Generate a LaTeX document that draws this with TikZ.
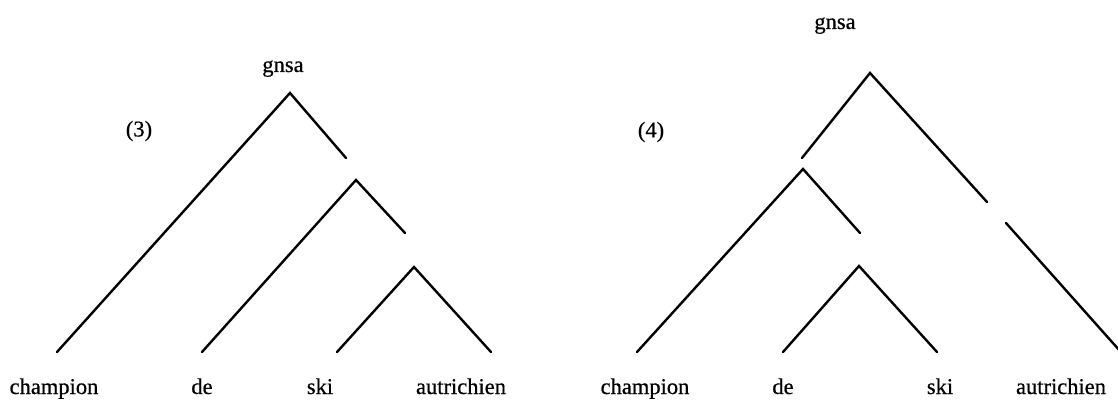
\documentclass[tikz,border=0pt]{standalone}
\usepackage{fontspec}
\setmainfont[FakeBold=0.6]{Liberation Serif}
\begin{document}
\begin{tikzpicture}[x=1pt,y=-1pt,
  branch/.style={line width=2.4pt,line cap=round,line join=miter},
  word/.style={anchor=base,inner sep=0pt,font=\fontsize{22.5}{26}\selectfont},
  tag/.style={anchor=center,inner sep=0pt,font=\fontsize{22.5}{26}\selectfont}]
\useasboundingbox (0,0) rectangle (1118,401);
% ---------- tree (3) ----------
\coordinate (A3) at (290,93);
\coordinate (a3r) at (346,158);
\coordinate (B3) at (356,180);
\coordinate (b3r) at (405,233);
\coordinate (C3) at (414,267);
\coordinate (L1) at (57,352);
\coordinate (L2) at (202,352);
\coordinate (L3) at (337,352);
\coordinate (L4) at (491,352);
\draw[branch] (L1) -- (A3) -- (a3r);
\draw[branch] (L2) -- (B3) -- (b3r);
\draw[branch] (L3) -- (C3) -- (L4);
\node[word] (g3) at (283,72) {gnsa};
\node[tag] (n3) at (139,131) {(3)};
\node[word] (w31) at (54,394) {champion};
\node[word] (w32) at (202,394) {de};
\node[word] (w33) at (320,394) {ski};
\node[word] (w34) at (461,394) {autrichien};
% ---------- tree (4) ----------
\coordinate (A4) at (870,73);
\coordinate (a4l) at (802,158);
\coordinate (a4r) at (987,202);
\coordinate (a4s) at (1006,223);
\coordinate (a4e) at (1120,351);
\coordinate (B4) at (803,169);
\coordinate (b4r) at (860,233);
\coordinate (C4) at (859,266);
\coordinate (M1) at (637,352);
\coordinate (M2) at (783,352);
\coordinate (M3) at (937,352);
\draw[branch] (a4l) -- (A4) -- (a4r);
\draw[branch] (a4s) -- (a4e);
\draw[branch] (M1) -- (B4) -- (b4r);
\draw[branch] (M2) -- (C4) -- (M3);
\node[word] (g4) at (835,29) {gnsa};
\node[tag] (n4) at (651,132) {(4)};
\node[word] (w41) at (645,394) {champion};
\node[word] (w42) at (783,394) {de};
\node[word] (w43) at (940,394) {ski};
\node[word] (w44) at (1061,394) {autrichien};
\end{tikzpicture}
\end{document}
